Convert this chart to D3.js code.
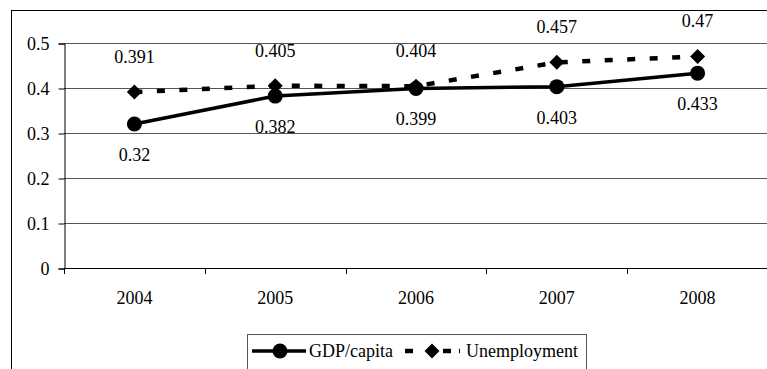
<!DOCTYPE html>
<html>
<head>
<meta charset="utf-8">
<script src="https://cdn.jsdelivr.net/npm/d3@7/dist/d3.min.js"></script>
<style>
  html, body { margin: 0; padding: 0; background: #fff; }
  svg { display: block; }
</style>
</head>
<body>
<svg id="chart" width="767" height="369"></svg>
<script>
// Chart data
const years = ["2004", "2005", "2006", "2007", "2008"];
const gdpPerCapita = [0.32, 0.382, 0.399, 0.403, 0.433];
const unemployment = [0.391, 0.405, 0.404, 0.457, 0.47];
const yTicks = [0, 0.1, 0.2, 0.3, 0.4, 0.5];
const seriesNames = ["GDP/capita", "Unemployment"];

const FONT = "Liberation Serif";
const svg = d3.select("#chart");
const W = 767, H = 369;

// Outer chart frame
svg.append("rect")
  .attr("x", 11.5).attr("y", 10.5)
  .attr("width", W + 10).attr("height", H + 10)
  .attr("fill", "none").attr("stroke", "#000").attr("stroke-width", 1);

const plot = { left: 64, top: 43, right: 768, bottom: 268 };

const x = d3.scaleBand().domain(years).range([plot.left, plot.right]);
const y = d3.scaleLinear().domain([0, 0.5]).range([plot.bottom, plot.top]);
const cx = d => x(d) + x.bandwidth() / 2;

// Horizontal gridlines
svg.append("g")
  .selectAll("line")
  .data(yTicks.filter(t => t > 0))
  .join("line")
  .attr("x1", plot.left).attr("x2", plot.right)
  .attr("y1", d => Math.round(y(d)) + 0.5).attr("y2", d => Math.round(y(d)) + 0.5)
  .attr("stroke", "#555").attr("stroke-width", 1);

// Y axis
const yAxis = d3.axisLeft(y).tickValues(yTicks).tickSize(6).tickPadding(9)
  .tickFormat(d => d === 0 ? "0" : d3.format(".1f")(d));
const gy = svg.append("g").attr("transform", `translate(${plot.left + 0.5},0.5)`).call(yAxis);
gy.select(".domain").attr("stroke", "#000");
gy.selectAll(".tick line").attr("stroke", "#000");
gy.selectAll(".tick text").attr("dy", "0.33em")
  .style("font-family", FONT).style("font-size", "18px");

// X axis: ticks sit between categories
const xAxis = d3.axisBottom(x).tickSize(0).tickPadding(0);
const gx = svg.append("g").attr("transform", `translate(0,${plot.bottom + 0.5})`).call(xAxis);
gx.select(".domain").attr("stroke", "#000").attr("d", `M${plot.left},0H${plot.right}`);
gx.selectAll(".tick text").attr("y", 30).attr("dy", "0.33em")
  .style("font-family", FONT).style("font-size", "18px");
svg.append("g").selectAll("line")
  .data(years)
  .join("line")
  .attr("x1", d => Math.round(x(d)) + 0.5).attr("x2", d => Math.round(x(d)) + 0.5)
  .attr("y1", plot.bottom).attr("y2", plot.bottom + 6)
  .attr("stroke", "#000");

const line = d3.line().x((d, i) => cx(years[i])).y(d => y(d));

// Unemployment: dashed line with diamonds
svg.append("path")
  .datum(unemployment)
  .attr("d", line)
  .attr("fill", "none").attr("stroke", "#000")
  .attr("stroke-width", 4.5).attr("stroke-dasharray", "8,14.5");

const diamond = s => `M0,${-s}L${s},0L0,${s}L${-s},0Z`;
svg.append("g").selectAll("path")
  .data(unemployment)
  .join("path")
  .attr("transform", (d, i) => `translate(${cx(years[i])},${y(d)})`)
  .attr("d", diamond(7.5))
  .attr("fill", "#000");

// GDP/capita: solid line with circles
svg.append("path")
  .datum(gdpPerCapita)
  .attr("d", line)
  .attr("fill", "none").attr("stroke", "#000").attr("stroke-width", 3.5);

svg.append("g").selectAll("circle")
  .data(gdpPerCapita)
  .join("circle")
  .attr("cx", (d, i) => cx(years[i])).attr("cy", d => y(d))
  .attr("r", 7.5).attr("fill", "#000");

// Value labels
const labels = svg.append("g");
labels.selectAll("text.unemp")
  .data(unemployment)
  .join("text")
  .attr("class", "unemp")
  .attr("x", (d, i) => cx(years[i])).attr("y", d => y(d) - 35)
  .attr("dy", "0.33em").attr("text-anchor", "middle")
  .style("font-family", FONT).style("font-size", "18px")
  .text(d => String(d));

labels.selectAll("text.gdp")
  .data(gdpPerCapita)
  .join("text")
  .attr("class", "gdp")
  .attr("x", (d, i) => cx(years[i])).attr("y", d => y(d) + 31)
  .attr("dy", "0.33em").attr("text-anchor", "middle")
  .style("font-family", FONT).style("font-size", "18px")
  .text(d => String(d));

// Legend
const lg = svg.append("g");
lg.append("rect")
  .attr("x", 247.5).attr("y", 334.5).attr("width", 339).attr("height", 50)
  .attr("fill", "#fff").attr("stroke", "#555").attr("stroke-width", 1);
const ly = 351;
lg.append("line").attr("x1", 252).attr("x2", 306).attr("y1", ly).attr("y2", ly)
  .attr("stroke", "#000").attr("stroke-width", 3.5);
lg.append("circle").attr("cx", 280).attr("cy", ly).attr("r", 7.5).attr("fill", "#000");
lg.append("text").attr("x", 309).attr("y", ly).attr("dy", "0.33em")
  .style("font-family", FONT).style("font-size", "18px").text(seriesNames[0]);
lg.append("line").attr("x1", 405).attr("x2", 460).attr("y1", ly).attr("y2", ly)
  .attr("stroke", "#000").attr("stroke-width", 4.5).attr("stroke-dasharray", "8,15,0,15,8");
lg.append("path").attr("transform", `translate(432,${ly})`).attr("d", diamond(7.5)).attr("fill", "#000");
lg.append("text").attr("x", 466).attr("y", ly).attr("dy", "0.33em")
  .style("font-family", FONT).style("font-size", "18px").text(seriesNames[1]);
</script>
</body>
</html>
